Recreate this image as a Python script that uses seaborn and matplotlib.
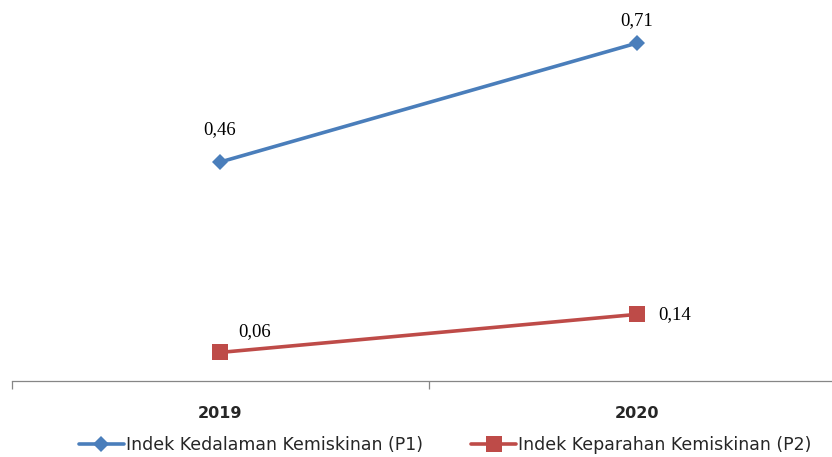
import matplotlib.pyplot as plt
import pandas as pd
import seaborn as sns

years = ["2019", "2020"]
p1_values = [0.46, 0.71]
p2_values = [0.06, 0.14]
series_names = ["Indek Kedalaman Kemiskinan (P1)", "Indek Keparahan Kemiskinan (P2)"]
p1_labels = ["0,46", "0,71"]
p2_labels = ["0,06", "0,14"]

df = pd.DataFrame({
    "tahun": years * 2,
    "nilai": p1_values + p2_values,
    "seri": [series_names[0]] * 2 + [series_names[1]] * 2,
})

sns.set_style("white")
plt.rcParams["font.family"] = ["DejaVu Sans"]

fig = plt.figure(figsize=(8.32, 4.57), dpi=100)
ax = fig.add_axes([11.5 / 832, 1 - 381 / 457, 834 / 832, 376 / 457])

palette = {series_names[0]: "#4a7ebb", series_names[1]: "#be4b48"}
markers = {series_names[0]: "D", series_names[1]: "s"}
sizes = {series_names[0]: 8, series_names[1]: 11}

for name in series_names:
    sub = df[df["seri"] == name]
    sns.lineplot(data=sub, x="tahun", y="nilai", ax=ax, color=palette[name],
                 marker=markers[name], markersize=sizes[name], markeredgewidth=0,
                 linewidth=2.6, label=name, sort=False)

ax.set_xlim(-0.5, 1.5)
ax.set_ylim(0, 0.79)

# posisi label data
serif = ["Liberation Serif", "DejaVu Serif"]
p1_offsets = [(0, 23.5), (0, 16.5)]
p2_offsets = [(25, 15), (27, 0)]
for i, (v, t) in enumerate(zip(p1_values, p1_labels)):
    ax.annotate(t, (i, v), xytext=p1_offsets[i], textcoords="offset points",
                ha="center", va="center", fontsize=13.5, family=serif, color="black")
for i, (v, t) in enumerate(zip(p2_values, p2_labels)):
    ax.annotate(t, (i, v), xytext=p2_offsets[i], textcoords="offset points",
                ha="center", va="center", fontsize=13.5, family=serif, color="black")

for s in ["top", "right", "left"]:
    ax.spines[s].set_visible(False)
ax.spines["bottom"].set_color("#868686")
ax.spines["bottom"].set_linewidth(0.9)
ax.set_yticks([])
ax.set_xticks([0, 1])
ax.set_xticks([-0.5, 0.5, 1.5], minor=True)
ax.tick_params(axis="x", which="major", length=0, pad=18, labelsize=11.5)
ax.tick_params(axis="x", which="minor", length=6, color="#868686", width=0.9, direction="out", bottom=True)
for lbl in ax.get_xticklabels():
    lbl.set_fontweight("bold")
ax.set_xlabel("")
ax.set_ylabel("")

ax.legend(loc="center", bbox_to_anchor=(0.52, -0.17), ncol=2, frameon=False,
          fontsize=12.5, handlelength=2.6, handletextpad=0.1, columnspacing=2.8,
          numpoints=1)

fig.savefig("out.png", dpi=100)
